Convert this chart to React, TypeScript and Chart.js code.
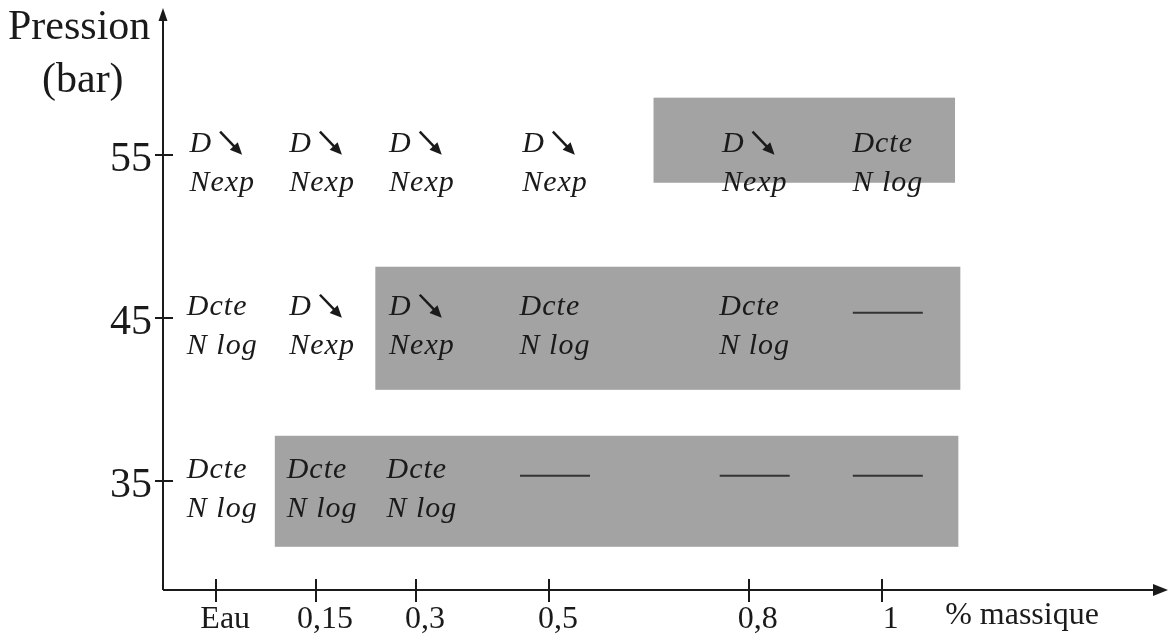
import React, { useEffect, useRef } from "react";
import { Chart, registerables } from "chart.js";

Chart.register(...registerables);

// ---- data ----
const xTickValues = [0, 0.15, 0.3, 0.5, 0.8, 1];
const xTickLabels = ["Eau", "0,15", "0,3", "0,5", "0,8", "1"];
const yTickValues = [35, 45, 55];
const yTickLabels = ["35", "45", "55"];

// shaded zones (one per pressure)
const zonePressure = [55, 45, 35];
const zoneXFrom = [0.657, 0.239, 0.088];
const zoneXTo = [1.11, 1.118, 1.115];
const zoneYLow = [53.28, 40.58, 30.95];
const zoneYHigh = [58.5, 48.13, 37.76];

// behaviour per (pressure, concentration): "dec" = D↘ / Nexp, "cte" = Dcte / N log, "none" = ——
const rowPressures = [55, 45, 35];
const cells55 = ["dec", "dec", "dec", "dec", "dec", "cte"];
const cells45 = ["cte", "dec", "dec", "cte", "cte", "none"];
const cells35 = ["cte", "cte", "cte", "none", "none", "none"];
const rowCells = [cells55, cells45, cells35];

const yTitleLines = ["Pression", "(bar)"];
const xTitle = "% massique";

const INK = "#1a1a1a";
const SERIF = "'Liberation Serif', 'Times New Roman', serif";

const figurePlugin = {
  id: "figurePlugin",
  beforeDatasetsDraw(chart: any) {
    const { ctx, scales } = chart;
    const x = scales.x;
    const y = scales.y;
    ctx.save();
    ctx.fillStyle = "#a3a3a3";
    zonePressure.forEach((_p, i) => {
      const x0 = x.getPixelForValue(zoneXFrom[i]);
      const x1 = x.getPixelForValue(zoneXTo[i]);
      const y0 = y.getPixelForValue(zoneYHigh[i]);
      const y1 = y.getPixelForValue(zoneYLow[i]);
      ctx.fillRect(x0, y0, x1 - x0, y1 - y0);
    });
    ctx.restore();
  },
  afterDraw(chart: any) {
    const { ctx, chartArea, scales } = chart;
    const x = scales.x;
    const y = scales.y;
    const { left, right, top, bottom } = chartArea;
    ctx.save();
    ctx.strokeStyle = INK;
    ctx.fillStyle = INK;
    ctx.lineWidth = 2;

    // axes
    ctx.beginPath();
    ctx.moveTo(left, bottom);
    ctx.lineTo(left, top + 10);
    ctx.moveTo(left, bottom);
    ctx.lineTo(right - 12, bottom);
    ctx.stroke();
    // arrowheads
    ctx.beginPath();
    ctx.moveTo(left, top);
    ctx.lineTo(left - 4.5, top + 13);
    ctx.lineTo(left + 4.5, top + 13);
    ctx.closePath();
    ctx.fill();
    ctx.beginPath();
    ctx.moveTo(right, bottom);
    ctx.lineTo(right - 15, bottom - 6);
    ctx.lineTo(right - 15, bottom + 6);
    ctx.closePath();
    ctx.fill();

    // tick marks crossing the axes
    ctx.beginPath();
    xTickValues.forEach((v) => {
      const px = Math.round(x.getPixelForValue(v));
      ctx.moveTo(px, bottom - 11);
      ctx.lineTo(px, bottom + 12);
    });
    yTickValues.forEach((v) => {
      const py = Math.round(y.getPixelForValue(v));
      ctx.moveTo(left - 8, py);
      ctx.lineTo(left + 10, py);
    });
    ctx.stroke();

    // axis titles
    ctx.font = `42px ${SERIF}`;
    ctx.textAlign = "left";
    ctx.textBaseline = "alphabetic";
    ctx.fillText(yTitleLines[0], 8, 39);
    ctx.fillText(yTitleLines[1], 42, 92);
    ctx.font = `32px ${SERIF}`;
    ctx.textAlign = "center";
    ctx.textBaseline = "top";
    ctx.fillText(xTitle, right - 146, bottom + 10);

    // cell annotations
    ctx.font = `italic 30px ${SERIF}`;
    try {
      (ctx as any).letterSpacing = "1px";
    } catch (e) {}
    ctx.textAlign = "left";
    ctx.textBaseline = "middle";
    rowPressures.forEach((p, r) => {
      const cy = y.getPixelForValue(p);
      rowCells[r].forEach((kind, j) => {
        const cx = x.getPixelForValue(xTickValues[j]) + 6;
        const y1 = cy - 11;
        const y2 = cy + 28;
        if (kind === "none") {
          ctx.save();
          ctx.strokeStyle = "#333";
          ctx.lineWidth = 2;
          ctx.beginPath();
          ctx.moveTo(cx - 35, cy - 5);
          ctx.lineTo(cx + 35, cy - 5);
          ctx.stroke();
          ctx.restore();
          return;
        }
        if (kind === "dec") {
          const wD = ctx.measureText("D").width;
          const w1 = wD + 8 + 22;
          const w2 = ctx.measureText("Nexp").width;
          const l = cx - Math.max(w1, w2) / 2;
          ctx.fillText("D", l, y1);
          ctx.fillText("Nexp", l, y2);
          // arrow ↘
          const ax = l + wD + 8;
          const ay = y1 - 12;
          const bx = ax + 22;
          const by = y1 + 11;
          const ang = Math.atan2(by - ay, bx - ax);
          ctx.save();
          ctx.lineWidth = 2.5;
          ctx.beginPath();
          ctx.moveTo(ax, ay);
          ctx.lineTo(bx - 8 * Math.cos(ang), by - 8 * Math.sin(ang));
          ctx.stroke();
          ctx.beginPath();
          ctx.moveTo(bx, by);
          ctx.lineTo(
            bx - 12 * Math.cos(ang) + 5.5 * Math.sin(ang),
            by - 12 * Math.sin(ang) - 5.5 * Math.cos(ang)
          );
          ctx.lineTo(
            bx - 12 * Math.cos(ang) - 5.5 * Math.sin(ang),
            by - 12 * Math.sin(ang) + 5.5 * Math.cos(ang)
          );
          ctx.closePath();
          ctx.fill();
          ctx.restore();
        } else {
          const w1 = ctx.measureText("Dcte").width;
          const w2 = ctx.measureText("N log").width;
          const l = cx - Math.max(w1, w2) / 2;
          ctx.fillText("Dcte", l, y1);
          ctx.fillText("N log", l, y2);
        }
      });
    });
    ctx.restore();
  },
};

export default function App() {
  const canvasRef = useRef<HTMLCanvasElement | null>(null);

  useEffect(() => {
    const canvas = canvasRef.current;
    if (!canvas) return;
    const chart = new Chart(canvas, {
      type: "scatter",
      data: { datasets: [] },
      options: {
        animation: false,
        responsive: false,
        devicePixelRatio: 1,
        layout: { padding: { top: 8, right: 4, left: 0, bottom: 0 } },
        plugins: { legend: { display: false }, tooltip: { enabled: false } },
        scales: {
          x: {
            type: "linear",
            min: -0.08,
            max: 1.43,
            grid: { display: false, drawTicks: false },
            border: { display: false },
            afterBuildTicks: (scale: any) => {
              scale.ticks = xTickValues.map((v) => ({ value: v }));
            },
            afterFit: (scale: any) => {
              scale.height = 48;
              scale.paddingLeft = 0;
              scale.paddingRight = 0;
            },
            ticks: {
              autoSkip: false,
              maxRotation: 0,
              padding: 10,
              labelOffset: 9,
              color: INK,
              font: { family: SERIF, size: 32 },
              callback: (value: any) => {
                const i = xTickValues.indexOf(Number(value));
                return i >= 0 ? xTickLabels[i] : "";
              },
            },
          },
          y: {
            type: "linear",
            min: 28.3,
            max: 64,
            grid: { display: false, drawTicks: false },
            border: { display: false },
            afterBuildTicks: (scale: any) => {
              scale.ticks = yTickValues.map((v) => ({ value: v }));
            },
            afterFit: (scale: any) => {
              scale.width = 163;
              scale.paddingTop = 0;
              scale.paddingBottom = 0;
            },
            ticks: {
              autoSkip: false,
              padding: 11,
              labelOffset: 5,
              color: INK,
              font: { family: SERIF, size: 42 },
              callback: (value: any) => {
                const i = yTickValues.indexOf(Number(value));
                return i >= 0 ? yTickLabels[i] : "";
              },
            },
          },
        },
      },
      plugins: [figurePlugin],
    });
    return () => chart.destroy();
  }, []);

  return (
    <div style={{ position: "fixed", left: 0, top: 0, width: 1172, height: 638, background: "#fff" }}>
      <canvas ref={canvasRef} width={1172} height={638} />
    </div>
  );
}
